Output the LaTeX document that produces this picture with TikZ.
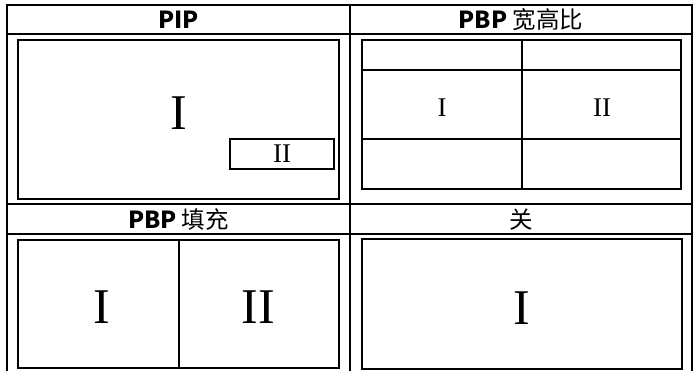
\documentclass[tikz,border=0pt]{standalone}
\usepackage{fontspec}
\setmainfont{Liberation Serif}
\newfontfamily\cjk{Noto Sans CJK SC}
\usetikzlibrary{positioning}
\tikzset{
  grid line/.style={line width=1.2pt},
  screen/.style={line width=1.8pt},
  head/.style={font=\cjk\fontsize{23.5}{25}\selectfont, inner sep=0pt},
  big num/.style={font=\fontsize{50}{52}\selectfont, inner sep=0pt},
  small num/.style={font=\fontsize{27}{29}\selectfont, inner sep=0pt},
}
\begin{document}
\begin{tikzpicture}[x=1pt,y=-1pt]
  \useasboundingbox (0,0) rectangle (693,371);

  % table
  \draw[grid line] (7,371) -- (7,5) -- (692,5) -- (692,371);
  \draw[grid line] (350,5) -- (350,371);
  \foreach \y in {34,204,234}
    \draw[grid line] (7,\y) -- (692,\y);

  % headers
  \node[head] (pip head) at (178.5,20) {\bfseries PIP};
  \node[head] (aspect head) at (521,20) {{\bfseries PBP} 宽高比};
  \node[head] (fill head) at (178.5,219.5) {{\bfseries PBP} 填充};
  \node[head] (off head) at (521,219.5) {关};

  % PIP
  \draw[screen] (18,40) rectangle (339,199);
  \node[big num] (pip main) at (179,113) {I};
  \draw[screen] (230,139) rectangle (334,169);
  \node[small num] (pip sub) at (282,154) {II};

  % PBP aspect
  \draw[screen] (362,40) rectangle (681,189);
  \draw[grid line] (522,40) -- (522,189);
  \foreach \y in {70,139}
    \draw[grid line] (362,\y) -- (681,\y);
  \node[small num] (aspect left) at (442,108) {I};
  \node[small num] (aspect right) at (602,108) {II};

  % PBP fill
  \draw[screen] (18,240) rectangle (339,368);
  \draw[grid line] (179,240) -- (179,368);
  \node[big num] (fill left) at (102,307) {I};
  \node[big num] (fill right) at (258,307) {II};

  % off
  \draw[screen] (362,239) rectangle (682,369);
  \node[big num] (off main) at (522,308) {I};
\end{tikzpicture}
\end{document}
